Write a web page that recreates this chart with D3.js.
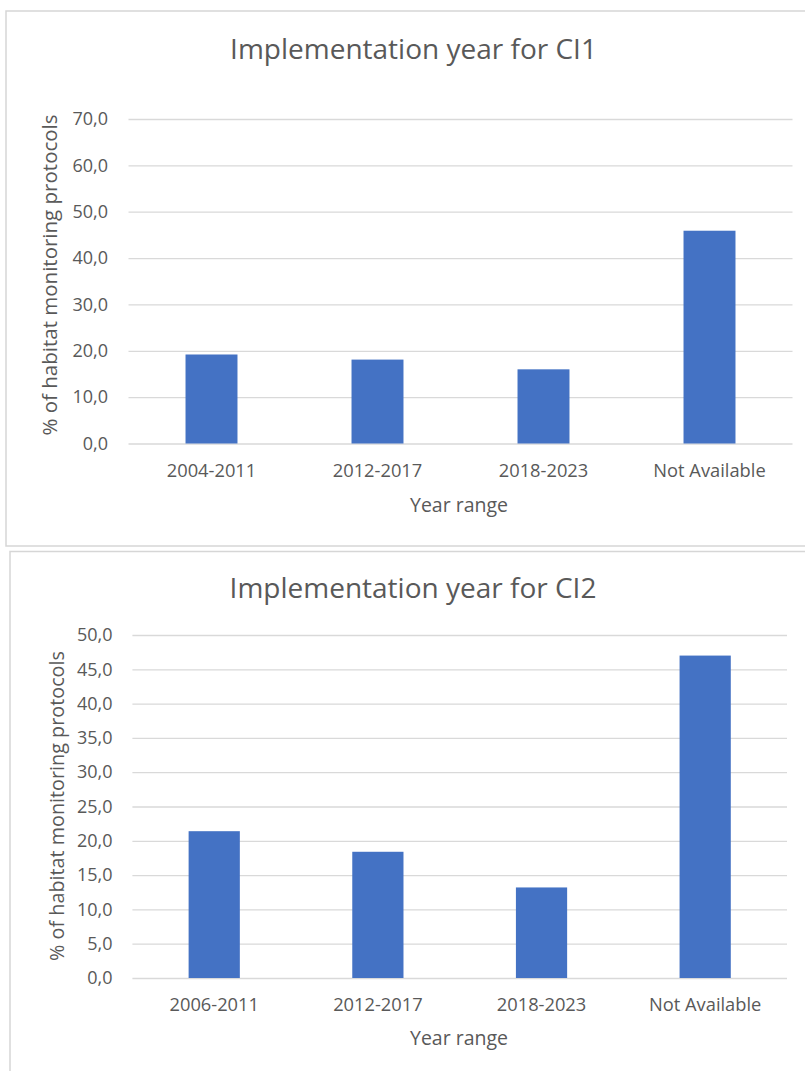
<!DOCTYPE html>
<html>
<head>
<meta charset="utf-8">
<script src="https://cdn.jsdelivr.net/npm/d3@7"></script>
<style>
  html, body { margin: 0; padding: 0; background: #ffffff; }
  svg { display: block; }
  text { font-family: "Open Sans", "Noto Sans", sans-serif; fill: #595959; }
</style>
</head>
<body>
<svg id="chart" width="805" height="1071"></svg>
<script>
// ---- Data ----
const title1 = "Implementation year for CI1";
const categories1 = ["2004-2011", "2012-2017", "2018-2023", "Not Available"];
const values1 = [19.2, 18.1, 16.0, 45.9];
const ticks1 = [0, 10, 20, 30, 40, 50, 60, 70];

const title2 = "Implementation year for CI2";
const categories2 = ["2006-2011", "2012-2017", "2018-2023", "Not Available"];
const values2 = [21.4, 18.4, 13.2, 47.0];
const ticks2 = [0, 5, 10, 15, 20, 25, 30, 35, 40, 45, 50];

const xTitle = "Year range";
const yTitle = "% of habitat monitoring protocols";

// ---- Drawing ----
const svg = d3.select("#chart");
const fmt = v => d3.format(".1f")(v).replace(".", ",");

function drawPanel(cfg) {
  const g = svg.append("g");
  // panel border
  g.append("rect")
    .attr("x", cfg.box[0]).attr("y", cfg.box[1])
    .attr("width", cfg.box[2]).attr("height", cfg.box[3])
    .attr("fill", "#ffffff").attr("stroke", "#d6d6d6").attr("stroke-width", 1.5);

  const x = d3.scaleBand().domain(cfg.categories)
    .range([cfg.left, cfg.right]).paddingInner(0.687).paddingOuter(0.3435);
  const y = d3.scaleLinear().domain([0, d3.max(cfg.ticks)])
    .range([cfg.bottom, cfg.top]);

  // gridlines
  const yAxis = d3.axisLeft(y).tickValues(cfg.ticks)
    .tickSize(-(cfg.right - cfg.left)).tickFormat(fmt).tickPadding(20);
  const ga = g.append("g").attr("transform", `translate(${cfg.left},0)`).call(yAxis);
  ga.select(".domain").remove();
  ga.selectAll(".tick line").attr("stroke", "#d9d9d9").attr("stroke-width", 1.3);
  ga.selectAll(".tick text").attr("font-size", 18).attr("fill", "#595959")
    .attr("x", cfg.tickX - cfg.left).attr("font-family", "Open Sans");

  // bars
  g.selectAll("rect.bar").data(cfg.values).enter().append("rect")
    .attr("class", "bar")
    .attr("x", (d, i) => x(cfg.categories[i]))
    .attr("width", x.bandwidth())
    .attr("y", d => y(d))
    .attr("height", d => y(0) - y(d))
    .attr("fill", "#4472c4");

  // x axis labels
  const xAxis = d3.axisBottom(x).tickSize(0).tickPadding(0);
  const gx = g.append("g").attr("transform", `translate(0,${cfg.bottom})`).call(xAxis);
  gx.select(".domain").remove();
  gx.selectAll(".tick text").attr("font-size", 18.3).attr("fill", "#595959")
    .attr("font-family", "Open Sans").attr("dy", null).attr("y", cfg.catY - cfg.bottom);

  // title
  g.append("text").attr("x", cfg.titleX).attr("y", cfg.titleY)
    .attr("text-anchor", "middle").attr("font-size", 28).text(cfg.title);

  // axis titles
  g.append("text").attr("x", cfg.xTitleX).attr("y", cfg.xTitleY)
    .attr("text-anchor", "middle").attr("font-size", 19.5).text(xTitle);
  g.append("text")
    .attr("transform", `translate(${cfg.yTitleX},${cfg.yTitleY}) rotate(-90)`)
    .attr("text-anchor", "middle").attr("font-size", cfg.yTitleSize).text(yTitle);
}

drawPanel({
  box: [6, 11, 810, 535],
  title: title1, categories: categories1, values: values1, ticks: ticks1,
  left: 128.5, right: 792.5, top: 119, bottom: 443.5,
  tickX: 108, catY: 477, titleX: 413.5, titleY: 59,
  xTitleX: 459, xTitleY: 512, yTitleX: 57, yTitleY: 275, yTitleSize: 20.5
});

drawPanel({
  box: [10, 551.5, 810, 530],
  title: title2, categories: categories2, values: values2, ticks: ticks2,
  left: 132.4, right: 787, top: 635, bottom: 978,
  tickX: 112.5, catY: 1011, titleX: 413, titleY: 598,
  xTitleX: 459, xTitleY: 1045, yTitleX: 63.5, yTitleY: 806, yTitleSize: 19.8
});
</script>
</body>
</html>
